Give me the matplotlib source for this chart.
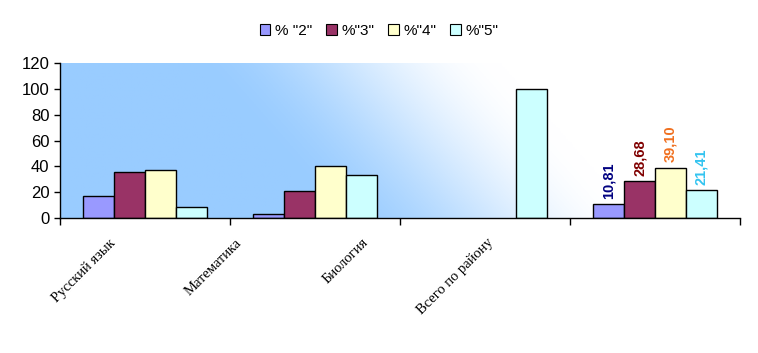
import numpy as np
import matplotlib
matplotlib.use("Agg")
import matplotlib.pyplot as plt
from matplotlib.patches import Patch

# Chart data
subjects = ["Русский язык", "Математика", "Биология", "Всего по району"]
series_names = ['% "2"', '%"3"', '%"4"', '%"5"']
pct_2 = [17.0, 3.5, 0.0, 10.81]
pct_3 = [36.0, 21.0, 0.0, 28.68]
pct_4 = [37.5, 40.5, 0.0, 39.10]
pct_5 = [9.0, 33.5, 100.0, 21.41]
total_labels = ["10,81", "28,68", "39,10", "21,41"]

bar_colors = ["#9999FF", "#993366", "#FFFFCC", "#CCFFFF"]
label_colors = ["#000080", "#800000", "#F07020", "#33C4F0"]

fig = plt.figure(figsize=(7.58, 3.53), dpi=100)
ax = fig.add_axes([0.0792, 0.382, 0.8971, 0.4395])

# diagonal gradient background: light blue bottom-left fading to white
nx, ny = 400, 100
gx = np.linspace(0, 1, nx)[None, :]
gy = np.linspace(0, 1, ny)[:, None]
t = np.clip((gx - (0.62 - 0.2 * gy)) / 0.45 + 0.5, 0, 1)
t = t * t * (3 - 2 * t)
blue = np.array([153, 204, 255]) / 255.0
img = blue[None, None, :] * (1 - t[..., None]) + np.ones(3)[None, None, :] * t[..., None]
ax.imshow(img, extent=[0, 1, 0, 1], transform=ax.transAxes, aspect="auto",
          origin="lower", zorder=0)

x = np.arange(len(subjects))
w = 0.182
all_series = [pct_2, pct_3, pct_4, pct_5]
for i, vals in enumerate(all_series):
    pos = x + (i - 1.5) * w
    edges = ["black" if v > 0 else "none" for v in vals]
    ax.bar(pos, vals, width=w, color=bar_colors[i], edgecolor=edges,
           linewidth=1.0, zorder=2)
    # value label for the district total only
    ax.annotate(total_labels[i], (pos[-1], vals[-1]), xytext=(0, 4),
                textcoords="offset points", rotation=90, ha="center", va="bottom",
                fontsize=10.5, fontweight="bold", color=label_colors[i],
                family="Liberation Sans", zorder=3)

ax.set_xlim(-0.5, len(subjects) - 0.5)
ax.set_ylim(0, 120)
ax.set_yticks(range(0, 121, 20))
ax.tick_params(axis="y", labelsize=12, length=4, direction="out", width=1)
for lbl in ax.get_yticklabels():
    lbl.set_family("Liberation Sans")

# tick marks at category boundaries, labels placed separately
ax.set_xticks(np.arange(len(subjects) + 1) - 0.5, minor=True)
ax.tick_params(axis="x", which="minor", length=5, width=1)
ax.set_xticks(np.arange(len(subjects)) * 0.741 - 0.21)
ax.set_xticklabels(subjects, rotation=45, ha="right", va="top",
                   rotation_mode="anchor", family="Liberation Serif", fontsize=10.5)
ax.tick_params(axis="x", which="major", length=0, pad=13)

for s in ["top", "right"]:
    ax.spines[s].set_visible(False)
ax.spines["left"].set_linewidth(1)
ax.spines["bottom"].set_linewidth(1)

handles = [Patch(facecolor=c, edgecolor="black", linewidth=0.8) for c in bar_colors]
fig.legend(handles, series_names, loc="center", bbox_to_anchor=(0.5, 0.912), ncol=4,
           frameon=False, handlelength=0.7, handleheight=0.7, handletextpad=0.3,
           columnspacing=0.9, prop={"family": "Liberation Sans", "size": 11})

fig.savefig("out.png", dpi=100)
